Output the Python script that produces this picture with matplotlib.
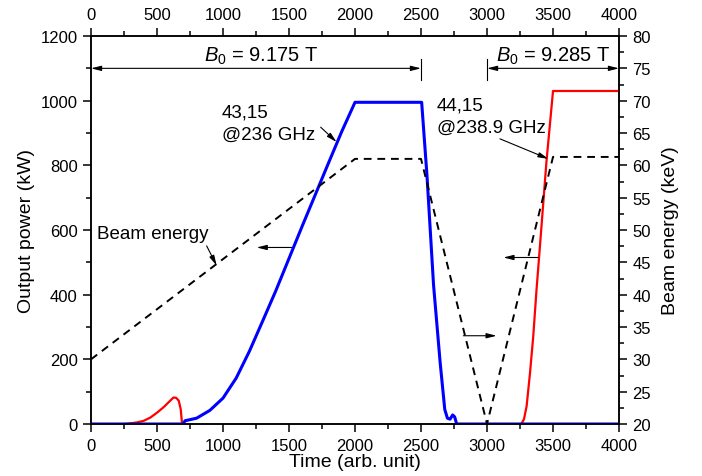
import numpy as np
import matplotlib
matplotlib.use('Agg')
from matplotlib import pyplot as plt
from matplotlib.ticker import MultipleLocator

plt.rcParams['font.family'] = ['Liberation Sans', 'DejaVu Sans']
plt.rcParams['mathtext.fontset'] = 'custom'
plt.rcParams['mathtext.rm'] = 'Liberation Sans'
plt.rcParams['mathtext.it'] = 'Liberation Sans:italic'

# 43,15 mode (blue)
t_blue = [0, 700, 712, 800, 900, 1000, 1100, 1200, 1300, 1400, 1500, 1600, 1700,
          1800, 1900, 2000, 2500, 2505, 2545, 2595, 2645, 2680, 2700, 2720, 2740,
          2755, 2770, 4000]
p_blue = [0, 0, 10, 18, 42, 80, 142, 225, 318, 412, 512, 612, 710,
          808, 905, 995, 995, 995, 770, 430, 190, 45, 18, 15, 28,
          22, 0, 0]

# 44,15 mode (red)
t_red1 = [260, 300, 350, 400, 450, 500, 550, 600, 625, 645, 665, 680, 690]
p_red1 = [0, 2, 5, 10, 20, 35, 52, 72, 82, 81, 72, 45, 0]
t_red2 = [3260, 3280, 3300, 3325, 3350, 3375, 3400, 3450, 3500, 4000]
p_red2 = [0, 15, 55, 155, 270, 415, 545, 810, 1030, 1030]

# beam energy (keV)
t_beam = [0, 2000, 2500, 3000, 3500, 4000]
e_beam = [30, 61, 61, 20, 61.3, 61.3]

fig = plt.figure(figsize=(7.02, 4.77), dpi=100)
ax = fig.add_axes([0.1296, 0.109, 0.7522, 0.8134])
ax2 = ax.twinx()

ax.plot(t_red1, p_red1, color='#ff0000', lw=1.6, zorder=3)
ax.plot(t_red2, p_red2, color='#ff0000', lw=1.6, zorder=3)
ax.plot(t_blue, p_blue, color='#0000ff', lw=2.2, zorder=4)
ax2.plot(t_beam, e_beam, color='black', lw=1.4, dashes=(4, 3))

ax.set_xlim(0, 4000)
ax.set_ylim(0, 1200)
ax2.set_ylim(20, 80)

ax.xaxis.set_major_locator(MultipleLocator(500))
ax.xaxis.set_minor_locator(MultipleLocator(250))
ax.yaxis.set_major_locator(MultipleLocator(200))
ax.yaxis.set_minor_locator(MultipleLocator(100))
ax2.yaxis.set_major_locator(MultipleLocator(5))
ax2.yaxis.set_minor_locator(MultipleLocator(2.5))

for a in (ax, ax2):
    for s in a.spines.values():
        s.set_linewidth(1.1)
    a.tick_params(which='major', length=6, width=1.1, labelsize=12, direction='out')
    a.tick_params(which='minor', length=3.5, width=1.1, direction='out')
ax.tick_params(which='both', top=True, labeltop=True)
ax.tick_params(axis='x', pad=4)

ax.set_xlabel('Time (arb. unit)', fontsize=14, labelpad=0)
ax.set_ylabel('Output power (kW)', fontsize=14, labelpad=4)
ax2.set_ylabel('Beam energy (keV)', fontsize=14, labelpad=8)

arr = dict(arrowstyle='-|>,head_length=0.6,head_width=0.15', color='black', lw=0.8,
           shrinkA=0, shrinkB=0)
dbl = dict(arrowstyle='<|-|>,head_length=0.6,head_width=0.15', color='black', lw=0.8,
           shrinkA=0, shrinkB=0)

# B0 spans
ax.annotate('', xy=(0, 1100), xytext=(2500, 1100), arrowprops=dbl, annotation_clip=False)
ax.plot([2500, 2500], [1065, 1130], color='black', lw=0.8, clip_on=False)
ax.text(1293, 1140, r'$B_0$ = 9.175 T', fontsize=14.5, ha='center', va='center')
ax.annotate('', xy=(4000, 1100), xytext=(3000, 1100), arrowprops=dbl, annotation_clip=False)
ax.plot([3000, 3000], [1065, 1130], color='black', lw=0.8, clip_on=False)
ax.text(3504, 1140, r'$B_0$ = 9.285 T', fontsize=14.5, ha='center', va='center')

# mode labels
ax.text(990, 931, '43,15\n@236 GHz', fontsize=13.5, ha='left', va='center', linespacing=1.4)
ax.annotate('', xy=(1861, 872), xytext=(1740, 918), arrowprops=arr)
ax.text(2619, 951, '44,15\n@238.9 GHz', fontsize=13.5, ha='left', va='center', linespacing=1.4)
ax.annotate('', xy=(3465, 820), xytext=(3098, 882), arrowprops=arr)

ax.text(43, 588, 'Beam energy', fontsize=13.5, ha='left', va='center')
ax.annotate('', xy=(952, 490), xytext=(876, 551), arrowprops=arr)

# axis-indicating arrows
ax.annotate('', xy=(1255, 546), xytext=(1520, 546), arrowprops=arr)
ax.annotate('', xy=(3124, 515), xytext=(3389, 515), arrowprops=arr)
ax.annotate('', xy=(3073, 273), xytext=(2821, 273), arrowprops=arr)

plt.savefig('out.png', dpi=100)
